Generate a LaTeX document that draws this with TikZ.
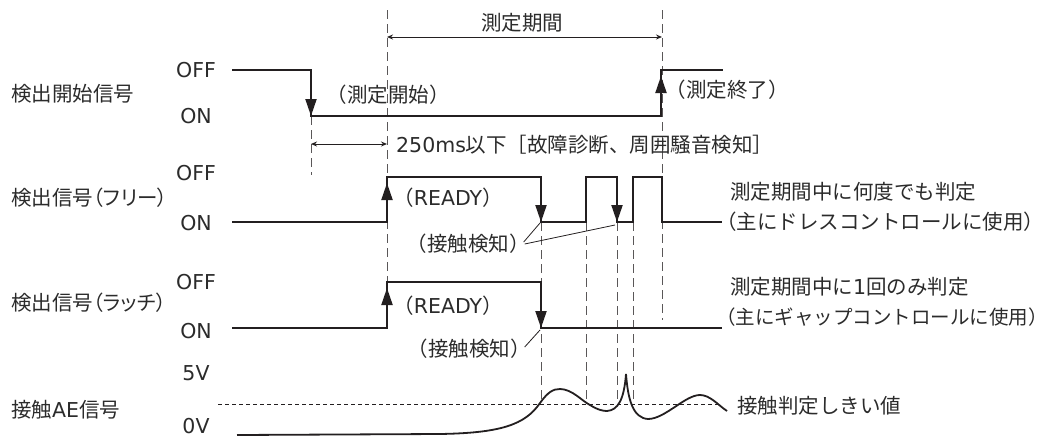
\documentclass[tikz,border=0pt]{standalone}
\usepackage{fontspec}
\setmainfont{Noto Sans CJK JP}
\newfontfamily\pal[RawFeature=+palt]{Noto Sans CJK JP}
\newfontfamily\lat{DejaVu Sans}
\usetikzlibrary{arrows.meta}
\definecolor{ink}{HTML}{231F20}
\definecolor{txt}{HTML}{2B2B2B}
\begin{document}
\begin{tikzpicture}[
    x=1pt, y=-1pt,
    every node/.style={font=\fontsize{20.5}{24}\selectfont, text=txt, inner sep=0pt},
    lvl/.style={font=\lat\fontsize{20.5}{24}\selectfont},
    sig/.style={draw=ink, line width=2pt},
    edge/.style={draw=ink, line width=2pt, -{Triangle[length=17pt, width=11pt]}},
    guide/.style={draw=ink!75, line width=1pt, dash pattern=on 9pt off 5pt},
    thresh/.style={draw=ink, line width=1pt, dash pattern=on 4pt off 3pt},
    dim/.style={draw=ink, line width=1pt, {Stealth[length=6pt, width=5pt]}-{Stealth[length=6pt, width=5pt]}},
    lead/.style={draw=ink, line width=0.8pt},
    curve/.style={draw=ink, line width=1.8pt}
]
\useasboundingbox (0,0) rectangle (1046,439);

% guide lines
\draw[guide] (311,116) -- (311,175);
\draw[guide] (387,10) -- (387,282);
\draw[guide] (662,10) -- (662,320);
\foreach \gx in {541,586,617,633}
    \draw[guide] (\gx,222) -- (\gx,400);
\draw[thresh] (218,404) -- (720,404);

% row labels
\node[anchor=west] (sstart) at (11,94) {\pal 検出開始信号};
\node[anchor=west] (sfree)  at (11,198) {\pal 検出信号（フリー）};
\node[anchor=west] (slatch) at (11,303) {\pal 検出信号（ラッチ）};
\node[anchor=west] (sae)    at (11,410) {\pal 接触{\lat AE}信号};
\node[lvl] (off1) at (196,70)  {OFF};
\node[lvl] (on1)  at (196,116) {ON};
\node[lvl] (off2) at (196,173) {OFF};
\node[lvl] (on2)  at (196,223) {ON};
\node[lvl] (off3) at (196,282) {OFF};
\node[lvl] (on3)  at (196,331) {ON};
\node[lvl] (v5)   at (196,373) {5V};
\node[lvl] (v0)   at (196,426) {0V};

% 検出開始信号
\draw[sig] (232,70) -- (311,70) -- (311,116) -- (661,116) -- (661,70) -- (723,70);
\draw[edge] (311,70) -- (311,116);
\draw[edge] (661,116) -- (661,76);
\node (mstart) at (388,95) {（測定開始）};
\node (mend)   at (727,90) {（測定終了）};

% 測定期間 / 250ms
\node (period) at (522,23) {測定期間};
\draw[dim] (387,37) -- (662,37);
\draw[dim] (311,144) -- (387,144);
\node[anchor=west] (diag) at (396,145) {{\lat 250ms}以下［故障診断、周囲騒音検知］};

% 検出信号（フリー）
\draw[sig] (232,222) -- (387,222) -- (387,177) -- (541,177) -- (541,222)
    -- (586,222) -- (586,177) -- (617,177) -- (617,222) -- (633,222)
    -- (633,177) -- (662,177) -- (662,222) -- (722,222);
\draw[edge] (387,222) -- (387,183);
\draw[edge] (541,177) -- (541,222);
\draw[edge] (617,177) -- (617,222);
\node (rdy1) at (448,198) {（{\lat READY}）};
\node (hit1) at (468,244) {（接触検知）};
\draw[lead] (hit1.east) ++(-6,-2) -- (540,223);
\draw[lead] (hit1.east) ++(-5,0) -- (615,225);
\node[anchor=west] (free1) at (730,192) {測定期間中に何度でも判定};
\node[anchor=west] (free2) at (716,222) {（主にドレスコントロールに使用）};

% 検出信号（ラッチ）
\draw[sig] (232,328) -- (387,328) -- (387,282) -- (541,282) -- (541,328) -- (722,328);
\draw[edge] (387,328) -- (387,288);
\draw[edge] (541,282) -- (541,328);
\node (rdy2) at (448,306) {（{\lat READY}）};
\node (hit2) at (469,349) {（接触検知）};
\draw[lead] (hit2.east) ++(-6,-2) -- (540,330);
\node[anchor=west] (latch1) at (730,287) {測定期間中に{\lat 1}回のみ判定};
\node[anchor=west, font=\fontsize{19.5}{23}\selectfont] (latch2) at (716,317) {（主にギャップコントロールに使用）};

% 接触AE信号
\draw[curve] (237,435) -- (440,434) .. controls (500,433) and (525,425) .. (540,403)
    .. controls (548,392) and (553,389) .. (560,389)
    .. controls (572,389) and (582,401) .. (590,405)
    .. controls (598,410) and (603,411) .. (607,411)
    .. controls (618,410) and (624,400) .. (626,374)
    .. controls (628,400) and (633,418) .. (648,419)
    .. controls (665,419) and (685,395) .. (700,395)
    .. controls (710,395) and (718,405) .. (727,411);
\node[anchor=west] (thr) at (737,406) {接触判定しきい値};
\end{tikzpicture}
\end{document}
